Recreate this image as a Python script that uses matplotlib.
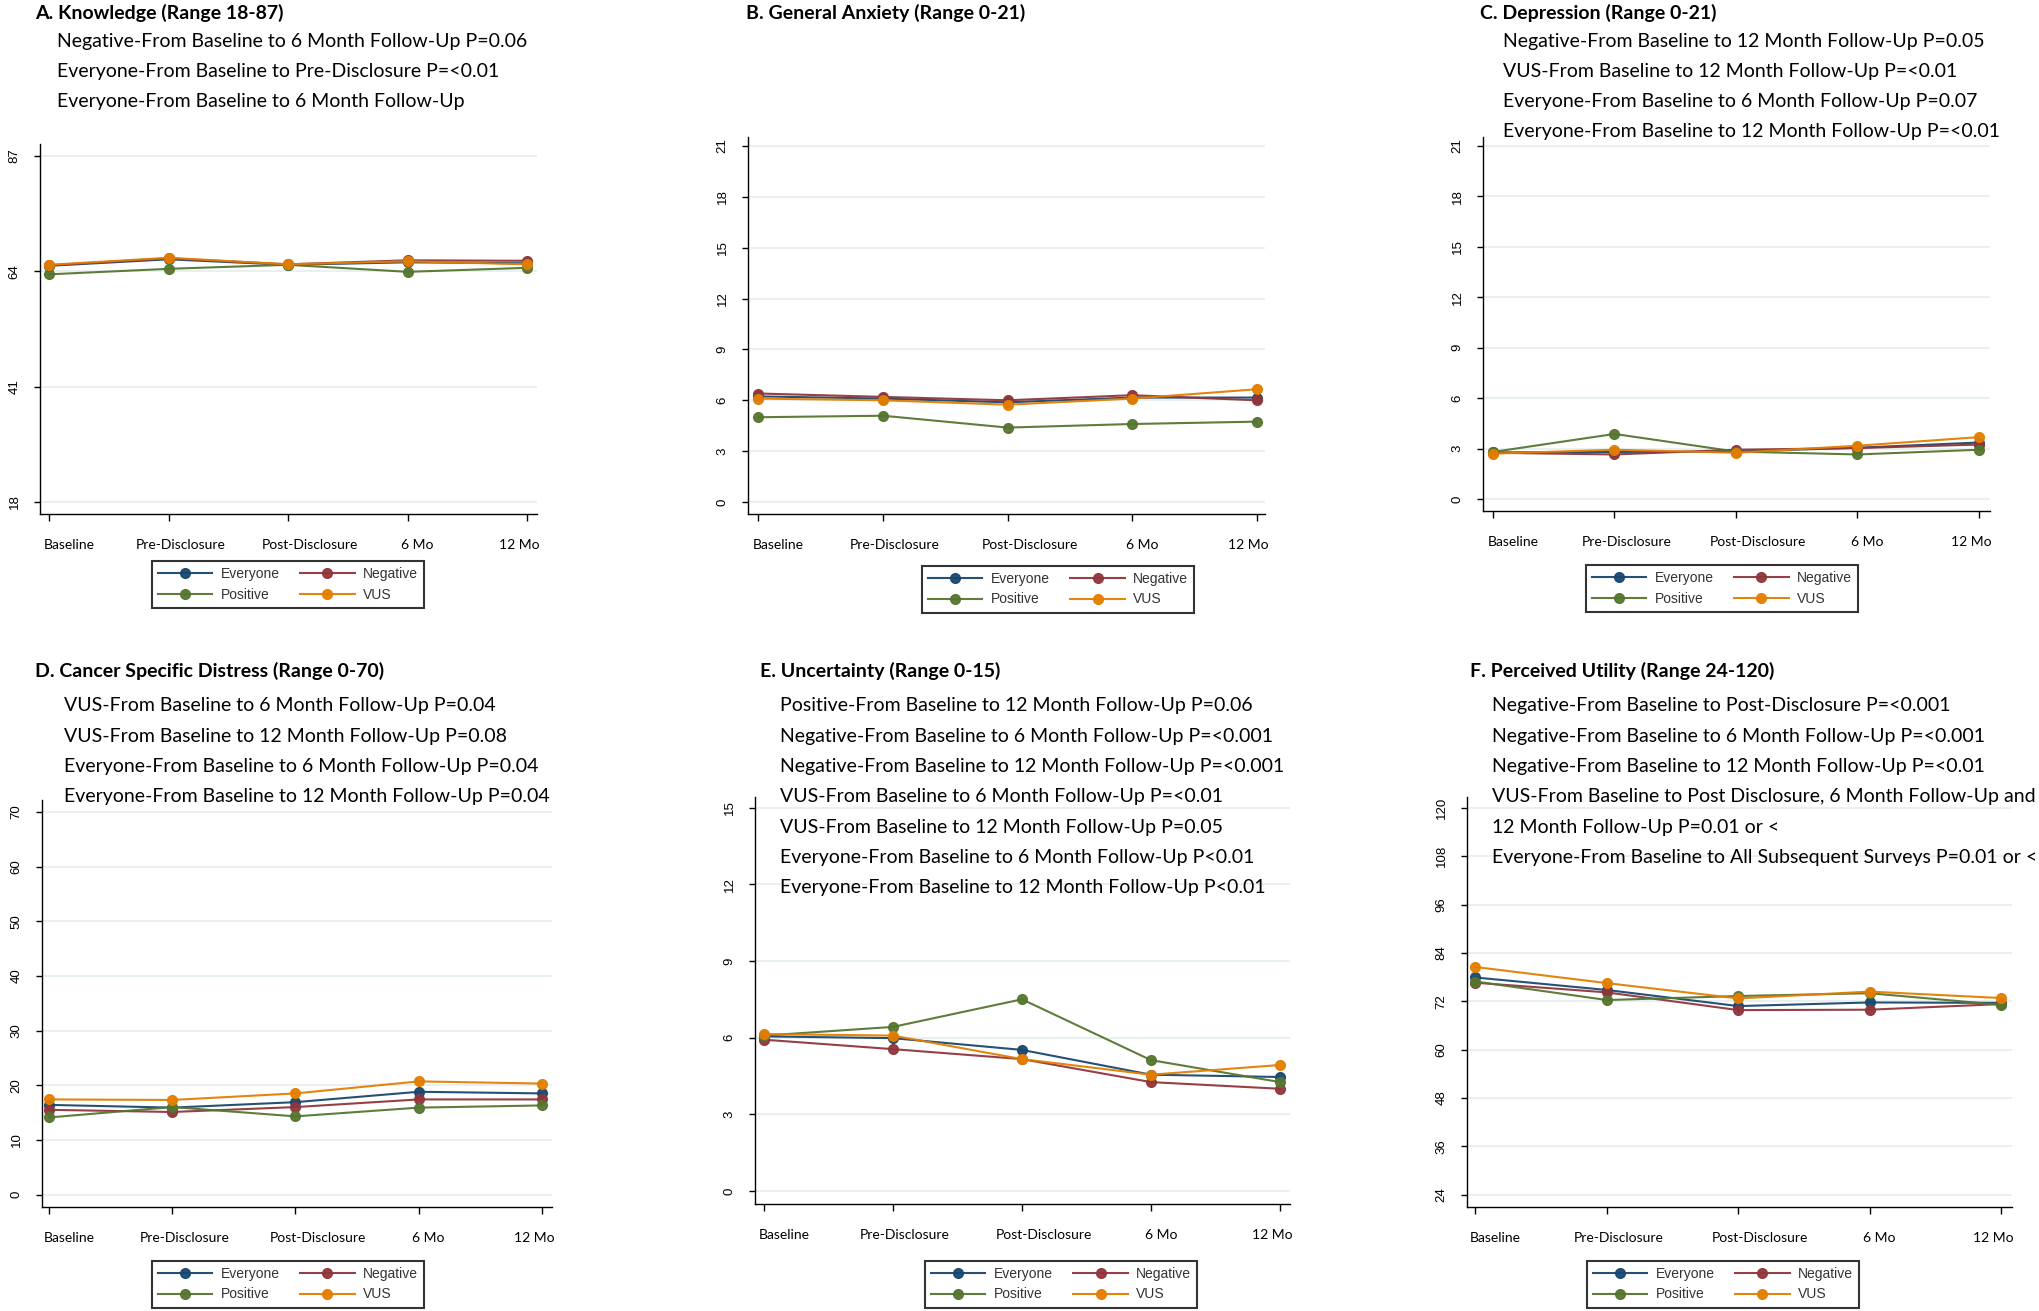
import matplotlib
matplotlib.use('Agg')
import matplotlib.pyplot as plt
from matplotlib.transforms import ScaledTranslation

# ---------------- data ----------------
timepoints = ['Baseline', 'Pre-Disclosure', 'Post-Disclosure', '6 Mo', '12 Mo']
groups = ['Everyone', 'Negative', 'Positive', 'VUS']
group_colors = ['#1a476f', '#90353b', '#55752f', '#e37e00']

knowledge_everyone = [65.1, 66.4, 65.3, 65.8, 65.6]
knowledge_negative = [65.2, 66.6, 65.4, 66.2, 66.1]
knowledge_positive = [63.4, 64.5, 65.3, 63.9, 64.7]
knowledge_vus = [65.3, 66.7, 65.4, 66.0, 65.4]

anxiety_everyone = [6.23, 6.1, 5.88, 6.16, 6.16]
anxiety_negative = [6.4, 6.2, 6.0, 6.3, 6.0]
anxiety_positive = [5.0, 5.09, 4.39, 4.6, 4.74]
anxiety_vus = [6.1, 6.0, 5.74, 6.1, 6.65]

depression_everyone = [2.77, 2.8, 2.82, 3.05, 3.36]
depression_negative = [2.75, 2.65, 2.93, 3.03, 3.24]
depression_positive = [2.8, 3.87, 2.82, 2.65, 2.93]
depression_vus = [2.7, 2.93, 2.75, 3.17, 3.68]

distress_everyone = [16.4, 15.9, 16.9, 18.8, 18.5]
distress_negative = [15.5, 15.1, 16.0, 17.4, 17.4]
distress_positive = [14.1, 16.0, 14.3, 15.9, 16.3]
distress_vus = [17.4, 17.3, 18.5, 20.7, 20.3]

uncertainty_everyone = [6.05, 5.98, 5.52, 4.55, 4.46]
uncertainty_negative = [5.92, 5.55, 5.16, 4.26, 4.0]
uncertainty_positive = [6.08, 6.42, 7.5, 5.12, 4.26]
uncertainty_vus = [6.14, 6.08, 5.16, 4.55, 4.93]

utility_everyone = [77.9, 74.8, 70.8, 71.7, 71.6]
utility_negative = [76.6, 74.2, 69.8, 69.9, 71.3]
utility_positive = [76.9, 72.3, 73.3, 74.0, 71.1]
utility_vus = [80.5, 76.5, 72.7, 74.4, 72.8]

titles = ['A. Knowledge (Range 18-87)', 'B. General Anxiety (Range 0-21)',
          'C. Depression (Range 0-21)', 'D. Cancer Specific Distress (Range 0-70)',
          'E. Uncertainty (Range 0-15)', 'F. Perceived Utility (Range 24-120)']

notes_a = ['Negative-From Baseline to 6 Month Follow-Up P=0.06',
           'Everyone-From Baseline to Pre-Disclosure P=<0.01',
           'Everyone-From Baseline to 6 Month Follow-Up']
notes_b = []
notes_c = ['Negative-From Baseline to 12 Month Follow-Up P=0.05',
           'VUS-From Baseline to 12 Month Follow-Up P=<0.01',
           'Everyone-From Baseline to 6 Month Follow-Up P=0.07',
           'Everyone-From Baseline to 12 Month Follow-Up P=<0.01']
notes_d = ['VUS-From Baseline to 6 Month Follow-Up P=0.04',
           'VUS-From Baseline to 12 Month Follow-Up P=0.08',
           'Everyone-From Baseline to 6 Month Follow-Up P=0.04',
           'Everyone-From Baseline to 12 Month Follow-Up P=0.04']
notes_e = ['Positive-From Baseline to 12 Month Follow-Up P=0.06',
           'Negative-From Baseline to 6 Month Follow-Up P=<0.001',
           'Negative-From Baseline to 12 Month Follow-Up P=<0.001',
           'VUS-From Baseline to 6 Month Follow-Up P=<0.01',
           'VUS-From Baseline to 12 Month Follow-Up P=0.05',
           'Everyone-From Baseline to 6 Month Follow-Up P<0.01',
           'Everyone-From Baseline to 12 Month Follow-Up P<0.01']
notes_f = ['Negative-From Baseline to Post-Disclosure P=<0.001',
           'Negative-From Baseline to 6 Month Follow-Up P=<0.001',
           'Negative-From Baseline to 12 Month Follow-Up P=<0.01',
           'VUS-From Baseline to Post Disclosure, 6 Month Follow-Up and',
           '12 Month Follow-Up P=0.01 or <',
           'Everyone-From Baseline to All Subsequent Surveys P=0.01 or <']

yticks_a = [18, 41, 64, 87]
yticks_b = [0, 3, 6, 9, 12, 15, 18, 21]
yticks_c = [0, 3, 6, 9, 12, 15, 18, 21]
yticks_d = [0, 10, 20, 30, 40, 50, 60, 70]
yticks_e = [0, 3, 6, 9, 12, 15]
yticks_f = [24, 36, 48, 60, 72, 84, 96, 108, 120]

panel_series = [
    [knowledge_everyone, knowledge_negative, knowledge_positive, knowledge_vus],
    [anxiety_everyone, anxiety_negative, anxiety_positive, anxiety_vus],
    [depression_everyone, depression_negative, depression_positive, depression_vus],
    [distress_everyone, distress_negative, distress_positive, distress_vus],
    [uncertainty_everyone, uncertainty_negative, uncertainty_positive, uncertainty_vus],
    [utility_everyone, utility_negative, utility_positive, utility_vus],
]
panel_notes = [notes_a, notes_b, notes_c, notes_d, notes_e, notes_f]
panel_yticks = [yticks_a, yticks_b, yticks_c, yticks_d, yticks_e, yticks_f]

# ---------------- layout (pixels in a 2040x1311 canvas) ----------------
W, H = 2040, 1311
# left, right, top, bottom, px of lowest tick, px of highest tick, px of first x tick, px of last x tick
layouts = [
    (40, 537, 144, 514, 502, 156, 49, 527),
    (748, 1265, 137, 514, 502, 146, 758.5, 1256.5),
    (1483, 1990, 137, 511, 499, 146, 1493, 1979),
    (42, 552, 800, 1207, 1194.5, 812, 49, 542),
    (755, 1290, 797, 1204, 1191, 807.6, 764, 1280),
    (1467, 2012, 797, 1207, 1194.5, 808, 1475.5, 2001),
]
legend_pos = [(288, 561), (1058, 566), (1722, 565), (288, 1261), (1061, 1261), (1723, 1261)]
title_pos = [(35, 13), (746, 13), (1480, 13), (35, 671), (760, 671), (1470, 671)]
note_pos = [(57, 41), (0, 0), (1503, 41), (64, 706), (780, 706), (1492, 706)]
note_step = 30.3
xlabel_shift_px = [20, 12, 22, 10, -8]

TXT_FONT = ['Lato', 'DejaVu Sans']
AX_FONT = ['Liberation Sans', 'DejaVu Sans']

fig = plt.figure(figsize=(W / 100, H / 100), dpi=100)
fig.patch.set_facecolor('white')

for i in range(6):
    L, R, T, B, plo, phi, bx, lx = layouts[i]
    ax = fig.add_axes([L / W, 1 - B / H, (R - L) / W, (B - T) / H])
    yt = panel_yticks[i]
    lo, hi = yt[0], yt[-1]
    u = (hi - lo) / (plo - phi)
    ax.set_ylim(lo - (B - plo) * u, hi + (phi - T) * u)
    ux = (len(timepoints) - 1) / (lx - bx)
    ax.set_xlim(-(bx - L) * ux, (len(timepoints) - 1) + (R - lx) * ux)

    ax.set_yticks(yt)
    ax.yaxis.grid(True, color='#e6eff1', lw=1.3, zorder=0)
    ax.set_axisbelow(True)
    for s in ['top', 'right']:
        ax.spines[s].set_visible(False)
    for s in ['left', 'bottom']:
        ax.spines[s].set_linewidth(1.0)
        ax.spines[s].set_color('black')

    x = list(range(len(timepoints)))
    handles = {}
    for k, (g, c) in enumerate(zip(groups, group_colors)):
        h, = ax.plot(x, panel_series[i][k], color=c, lw=1.5, marker='o', ms=7,
                     mec=c, mfc=c, zorder=3 + k, label=g, alpha=0.95)
        handles[g] = h

    ax.set_xticks(x)
    ax.set_xticklabels(timepoints, fontsize=10, family=TXT_FONT)
    ax.tick_params(axis='x', length=5, width=1.0, pad=13, colors='black')
    ax.tick_params(axis='y', length=4, width=1.0, pad=10, labelsize=9.5, colors='black')
    for lab in ax.get_yticklabels():
        lab.set_rotation(90)
        lab.set_va('center')
        lab.set_family(AX_FONT)
    for lab, dx in zip(ax.get_xticklabels(), xlabel_shift_px):
        lab.set_transform(lab.get_transform() + ScaledTranslation(dx / 100, 0, fig.dpi_scale_trans))

    # legend
    order = ['Everyone', 'Positive', 'Negative', 'VUS']
    lx_c, ly_t = legend_pos[i]
    leg = fig.legend([handles[g] for g in order], order, ncol=2,
                     loc='upper center', bbox_to_anchor=(lx_c / W, 1 - ly_t / H),
                     frameon=True, fancybox=False, edgecolor='black',
                     prop={'family': AX_FONT, 'size': 10},
                     handlelength=3.9, handletextpad=0.6, columnspacing=1.5,
                     borderpad=0.45, labelspacing=0.45, borderaxespad=0)
    leg.get_frame().set_linewidth(1.5)
    for t in leg.get_texts():
        t.set_color('#333333')

    # title and notes
    tx, ty = title_pos[i]
    fig.text(tx / W, 1 - ty / H, titles[i], fontsize=14, fontweight='bold',
             family=TXT_FONT, va='center', ha='left')
    nx, ny = note_pos[i]
    for j, line in enumerate(panel_notes[i]):
        fig.text(nx / W, 1 - (ny + j * note_step) / H, line, fontsize=14,
                 family=TXT_FONT, va='center', ha='left')

fig.savefig('out.png', dpi=100, facecolor='white')
